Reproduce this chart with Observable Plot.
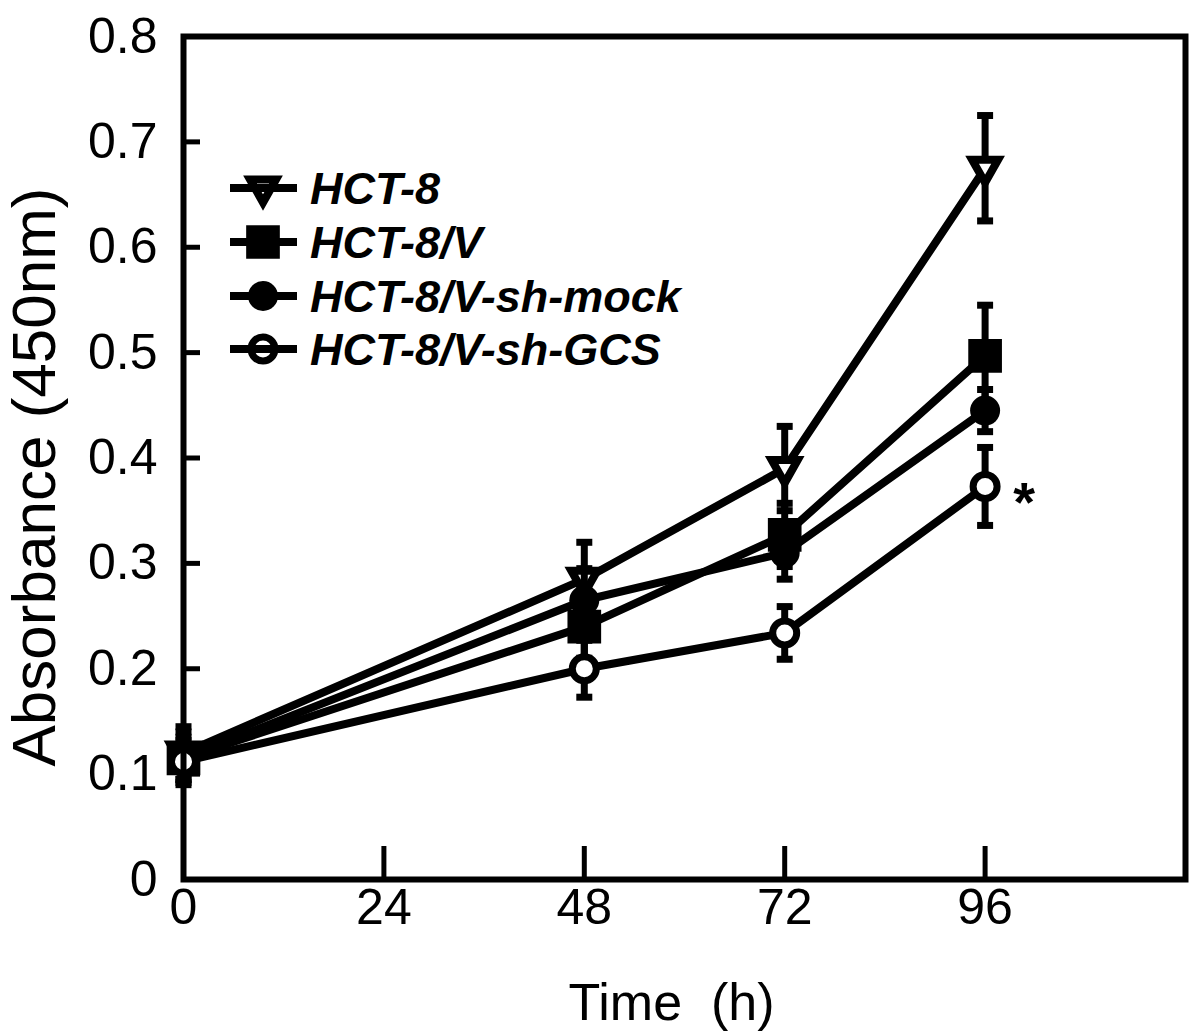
<!DOCTYPE html>
<html>
<head>
<meta charset="utf-8">
<script src="https://cdn.jsdelivr.net/npm/d3@7"></script>
<script src="https://cdn.jsdelivr.net/npm/@observablehq/plot@0.6"></script>
<style>
  html, body { margin: 0; padding: 0; background: #fff; }
  #chart { width: 1200px; height: 1033px; }
</style>
</head>
<body>
<div id="chart"></div>
<script>
// ---- data ----
const times = [0, 48, 72, 96];
const seriesNames = ["HCT-8", "HCT-8/V", "HCT-8/V-sh-mock", "HCT-8/V-sh-GCS"];
const hct8      = [0.120, 0.285, 0.390, 0.675];
const hct8Err   = [0.025, 0.035, 0.040, 0.050];
const hct8V     = [0.115, 0.240, 0.327, 0.497];
const hct8VErr  = [0.025, 0.030, 0.030, 0.048];
const shMock    = [0.115, 0.265, 0.310, 0.445];
const shMockErr = [0.020, 0.030, 0.025, 0.020];
const shGCS     = [0.112, 0.200, 0.234, 0.373];
const shGCSErr  = [0.020, 0.027, 0.025, 0.037];
const xTicks = [0, 24, 48, 72, 96];
const yTicks = [0, 0.1, 0.2, 0.3, 0.4, 0.5, 0.6, 0.7, 0.8];
const starSeries = "HCT-8/V-sh-GCS";
const starTime = 96;
const starText = "*";
const xLabel = "Time\u00a0\u00a0(h)";
const yLabel = "Absorbance (450nm)";

const values = [hct8, hct8V, shMock, shGCS];
const errs = [hct8Err, hct8VErr, shMockErr, shGCSErr];
const data = seriesNames.flatMap((s, i) => times.map((t, j) => ({
  series: s, time: t, value: values[i][j], err: errs[i][j]
})));

// ---- symbols ----
const triDown = {draw(ctx, size) {
  const r = Math.sqrt(size / Math.PI);
  ctx.moveTo(-1.3 * r, -0.85 * r);
  ctx.lineTo(1.3 * r, -0.85 * r);
  ctx.lineTo(0, 1.45 * r);
  ctx.closePath();
}};
const capSym = {draw(ctx) { ctx.rect(-8, -3.5, 16, 7); }};

const styles = {
  "HCT-8": {symbol: triDown, r: 10, fill: "white", stroke: "black", strokeWidth: 8},
  "HCT-8/V": {symbol: "square", r: 19, fill: "black", stroke: "none", strokeWidth: 0},
  "HCT-8/V-sh-mock": {symbol: "circle", r: 15, fill: "black", stroke: "none", strokeWidth: 0},
  "HCT-8/V-sh-GCS": {symbol: "circle", r: 12, fill: "white", stroke: "black", strokeWidth: 7}
};

const font = "'Liberation Sans', Arial, Helvetica, sans-serif";
const plotW = 1200 - 183 - 15;
const plotH = 1033 - 36 - 154;

const seriesMarks = seriesNames.flatMap(s => {
  const d = data.filter(r => r.series === s);
  const st = styles[s];
  return [
    Plot.ruleX(d, {x: "time", y1: r => r.value - r.err, y2: r => r.value + r.err, stroke: "black", strokeWidth: 7}),
    Plot.dot(d, {x: "time", y: r => r.value - r.err, symbol: capSym, fill: "black", stroke: "none", r: 5}),
    Plot.dot(d, {x: "time", y: r => r.value + r.err, symbol: capSym, fill: "black", stroke: "none", r: 5}),
    Plot.dot(d, {x: "time", y: "value", symbol: st.symbol, r: st.r, fill: st.fill, stroke: st.stroke,
      strokeWidth: st.strokeWidth, strokeLinejoin: "miter"})
  ];
});

const star = data.filter(r => r.series === starSeries && r.time === starTime);

const chart = Plot.plot({
  width: 1200,
  height: 1033,
  marginLeft: 183,
  marginRight: 15,
  marginTop: 36,
  marginBottom: 154,
  style: {fontFamily: font, background: "white", color: "black", overflow: "visible"},
  x: {domain: [0, 120]},
  y: {domain: [0, 0.8]},
  marks: [
    Plot.axisY(yTicks, {tickSize: 0, tickPadding: 26, fontSize: 50, label: null,
      tickFormat: d => d === 0 ? "0" : d.toFixed(1)}),
    Plot.axisX(xTicks, {tickSize: 0, tickPadding: 9, fontSize: 50, label: null, tickFormat: d => String(d)}),
    Plot.tickY(yTicks.filter(d => d > 0 && d < 0.8), {y: d => d, stroke: "black", strokeWidth: 5, insetRight: plotW - 17}),
    Plot.tickX(xTicks.filter(d => d > 0), {x: d => d, stroke: "black", strokeWidth: 5, insetTop: plotH - 33}),
    Plot.line(data, {x: "time", y: "value", z: "series", stroke: "black", strokeWidth: 8, strokeLinejoin: "round"}),
    ...seriesMarks,
    Plot.text(star, {x: "time", y: "value", text: () => starText, dx: 39, dy: 17, fontSize: 56, fontWeight: "bold", fill: "black", lineAnchor: "middle"}),
    Plot.text([yLabel], {frameAnchor: "left", rotate: -90, dx: -148, dy: 19, fontSize: 62, fill: "black", lineAnchor: "middle", textAnchor: "middle"}),
    Plot.text([xLabel], {frameAnchor: "bottom", dx: -13, dy: 124, fontSize: 52, fill: "black", lineAnchor: "middle", textAnchor: "middle"}),
    Plot.frame({stroke: "black", strokeWidth: 6})
  ]
});

document.getElementById("chart").appendChild(chart);

// ---- legend (inside the plot area, upper left) ----
const legendRows = [188, 242, 296, 349];
const lg = d3.select(chart).append("g").attr("class", "legend").attr("text-anchor", "start");
seriesNames.forEach((s, i) => {
  const st = styles[s];
  const y = legendRows[i];
  const symType = typeof st.symbol === "string" ? (st.symbol === "square" ? d3.symbolSquare : d3.symbolCircle) : st.symbol;
  lg.append("path")
    .attr("d", d3.symbol(symType, Math.PI * st.r * st.r)())
    .attr("transform", `translate(263,${y})`)
    .attr("fill", st.fill)
    .attr("stroke", st.stroke)
    .attr("stroke-width", st.strokeWidth)
    .attr("stroke-linejoin", "miter");
  lg.append("line")
    .attr("x1", 230).attr("x2", 297).attr("y1", y).attr("y2", y)
    .attr("stroke", "black").attr("stroke-width", 8);
  lg.append("text")
    .attr("x", 310).attr("y", y + 16)
    .attr("text-anchor", "start")
    .attr("font-family", font)
    .attr("font-size", 45)
    .attr("font-weight", "bold")
    .attr("font-style", "italic")
    .attr("fill", "black")
    .text(s);
});
</script>
</body>
</html>
